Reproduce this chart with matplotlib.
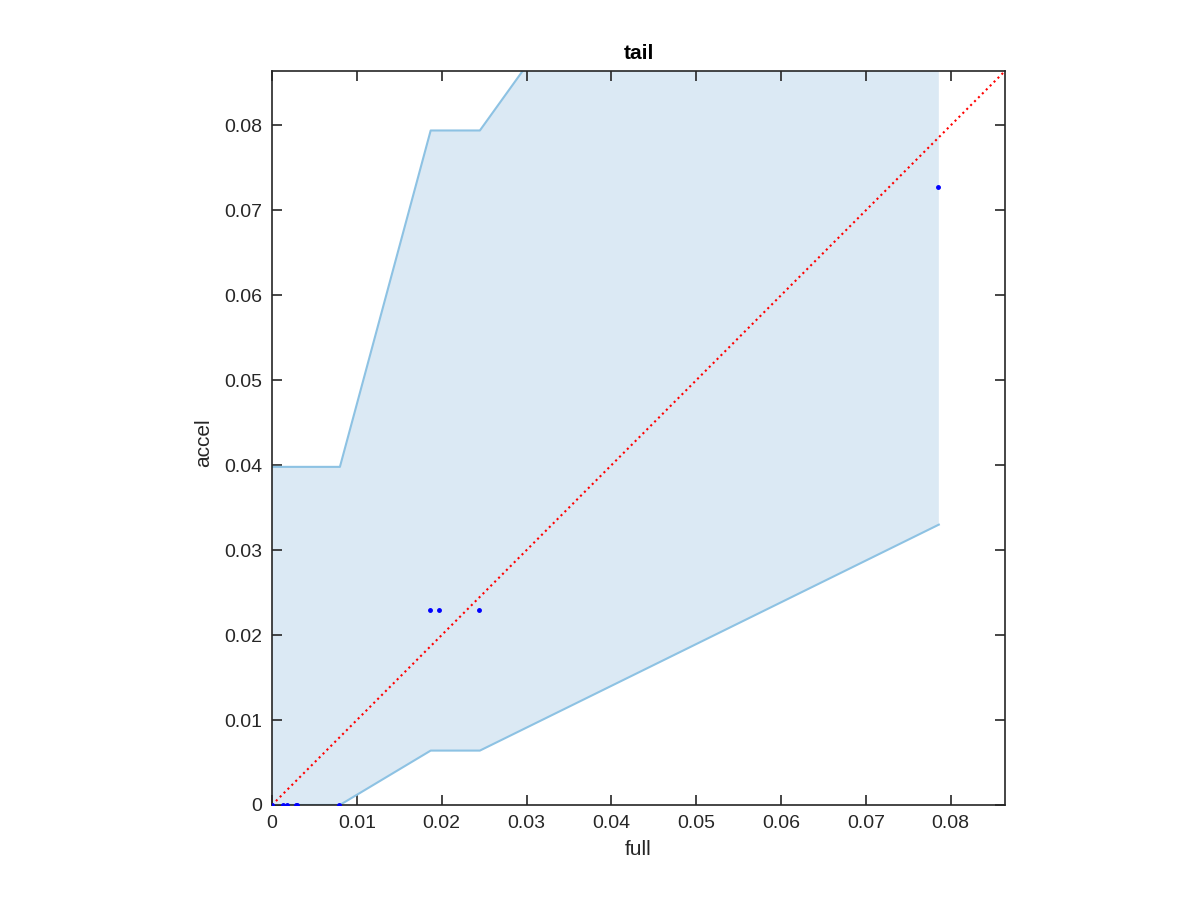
"tail: accel vs full"
import matplotlib
matplotlib.use('Agg')
import matplotlib.pyplot as plt

plt.rcParams['font.family'] = ['Liberation Sans', 'DejaVu Sans']

# scatter points
full = [0.0, 0.00133, 0.00173, 0.00282, 0.00298, 0.00792, 0.01859, 0.01965, 0.02435, 0.0785]
accel = [0.0, 0.0, 0.0, 0.0, 0.0, 0.0, 0.0230, 0.0230, 0.0230, 0.0727]

# confidence band (x, lower, upper)
band_x = [0.0, 0.0080, 0.0187, 0.0245, 0.0786]
band_lo = [0.0, 0.0, 0.0064, 0.0064, 0.0330]
band_hi = [0.0398, 0.0398, 0.0794, 0.0794, 0.1546]

LIM = 0.0864

fig = plt.figure(figsize=(12, 9), dpi=100)
ax = fig.add_axes([0.2267, 0.1056, 0.6108, 0.8155])

ax.fill_between(band_x, band_lo, band_hi, color='#dbe9f4', lw=0, zorder=1)
ax.plot(band_x, band_hi, color='#8dc2e3', lw=1.5, zorder=2)
ax.plot(band_x, band_lo, color='#8dc2e3', lw=1.5, zorder=2)
ax.plot([0, LIM], [0, LIM], ':', color='red', lw=1.5, zorder=3)
ax.plot(full, accel, '.', color='blue', ms=5, zorder=4)

ax.set_xlim(0, LIM)
ax.set_ylim(0, LIM)
ticks = [0, 0.01, 0.02, 0.03, 0.04, 0.05, 0.06, 0.07, 0.08]
tick_labels = ['0', '0.01', '0.02', '0.03', '0.04', '0.05', '0.06', '0.07', '0.08']
ax.set_xticks(ticks)
ax.set_yticks(ticks)
ax.set_xticklabels(tick_labels)
ax.set_yticklabels(tick_labels)
ax.tick_params(direction='in', top=True, right=True, length=7, width=1.2,
               labelsize=14, color='#262626', labelcolor='#262626', pad=7)
for s in ax.spines.values():
    s.set_color('#262626')
    s.set_linewidth(1.2)

ax.set_xlabel('full', fontsize=15, color='#262626', labelpad=6)
ax.set_ylabel('accel', fontsize=15, color='#262626')
ax.yaxis.set_label_coords(-0.081, 0.493)
ax.set_title('tail', fontsize=15, fontweight='bold', pad=9)

fig.savefig('out.png')
